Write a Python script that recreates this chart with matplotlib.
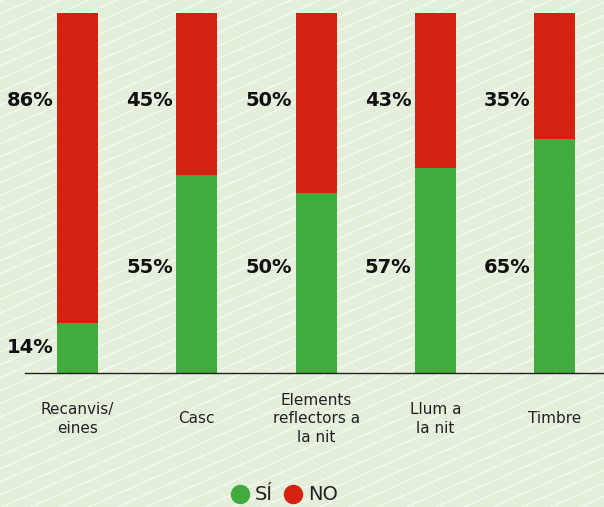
import numpy as np
import matplotlib.pyplot as plt
from matplotlib.lines import Line2D

categories = ["Recanvis/\neines", "Casc", "Elements\nreflectors a\nla nit", "Llum a\nla nit", "Timbre"]
si = [14, 55, 50, 57, 65]
no = [86, 45, 50, 43, 35]

GREEN = "#41ab3d"
RED = "#d42211"
BG = "#e3eedb"

plt.rcParams['font.family'] = ['DejaVu Sans']

fig = plt.figure(figsize=(6.04, 5.07), dpi=100)
fig.patch.set_facecolor(BG)

# fons ratllat
bg = fig.add_axes([0, 0, 1, 1], zorder=0)
bg.set_xlim(0, 604)
bg.set_ylim(0, 507)
bg.axis("off")
slope = 0.45
for b in np.arange(-300, 520, 13):
    bg.plot([0, 604], [b, b + slope * 604], color="white", lw=0.8, alpha=0.75)

ax = fig.add_axes([25 / 604, 134 / 507, 579 / 604, 360 / 507], zorder=1)
ax.patch.set_alpha(0)
x = np.arange(len(categories))
w = 0.344
ax.bar(x, si, width=w, color=GREEN)
ax.bar(x, no, width=w, bottom=si, color=RED)

ax.set_xlim(-0.44, 4.413)
ax.set_ylim(0, 100)
for s in ["top", "right", "left"]:
    ax.spines[s].set_visible(False)
ax.spines["bottom"].set_linewidth(1.0)
ax.spines["bottom"].set_color("#222222")
ax.set_yticks([])
ax.set_xticks([])

for i in range(len(categories)):
    xl = x[i] - w / 2 - 0.03
    ax.text(xl, 75.6, f"{no[i]}%", ha="right", va="center", fontsize=14, fontweight="bold", color="#111111")
    ys = si[i] / 2 if si[i] < 20 else 29.2
    ax.text(xl, ys, f"{si[i]}%", ha="right", va="center", fontsize=14, fontweight="bold", color="#111111")
    ax.text(x[i], -12.7, categories[i], ha="center", va="center", fontsize=11,
            linespacing=1.3, color="#222222", multialignment="center")

handles = [Line2D([], [], marker="o", ls="", color=GREEN, markersize=13),
           Line2D([], [], marker="o", ls="", color=RED, markersize=13)]
fig.legend(handles, ["SÍ", "NO"], loc="center", bbox_to_anchor=(284 / 604, 1 - 495 / 507),
           ncol=2, frameon=False, fontsize=14, handletextpad=0.3, columnspacing=0.5,
           handlelength=1.0, borderaxespad=0, labelcolor="#222222")

fig.savefig("out.png", dpi=100, facecolor=BG)
